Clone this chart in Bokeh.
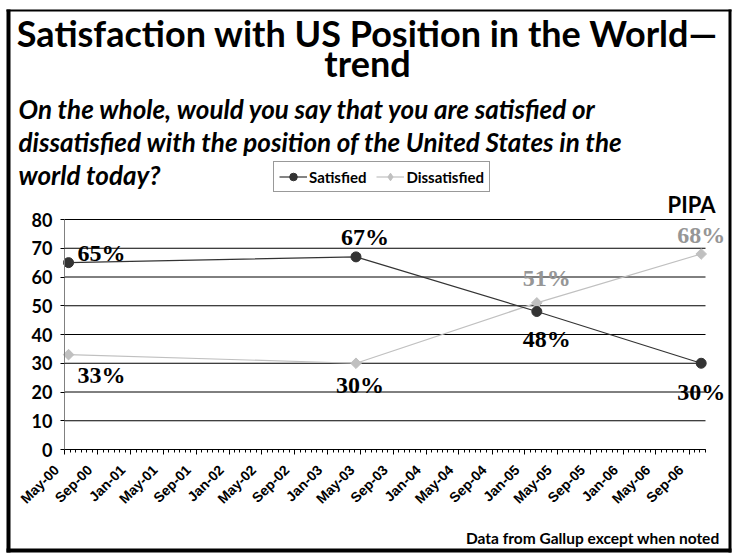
import numpy as np
import pandas as pd
from math import pi
from bokeh.plotting import figure
from bokeh.models import (Range1d, FixedTicker, ColumnDataSource, CustomJSTickFormatter,
                          LabelSet, Label, Legend, LegendItem, BoxAnnotation,
                          DatetimeAxis, LinearAxis)
from bokeh.embed import file_html
from bokeh.resources import INLINE

# ---------------- data ----------------
survey_dates = ["2000-05-16", "2003-04-16", "2005-02-14", "2006-10-16"]
satisfied = [65, 67, 48, 30]
dissatisfied = [33, 30, 51, 68]
tick_labels = ["May-00", "Sep-00", "Jan-01", "May-01", "Sep-01", "Jan-02", "May-02",
               "Sep-02", "Jan-03", "May-03", "Sep-03", "Jan-04", "May-04", "Sep-04",
               "Jan-05", "May-05", "Sep-05", "Jan-06", "May-06", "Sep-06"]
y_ticks = [0, 10, 20, 30, 40, 50, 60, 70, 80]
axis_start = "2000-05-01"
axis_end = "2006-11-01"

# ---------------- helpers ----------------
def to_ms(values):
    return pd.to_datetime(values).values.astype("datetime64[ms]").astype("int64")

major = [float(v) for v in to_ms([pd.to_datetime(t, format="%b-%y") for t in tick_labels])]
start_ms = float(to_ms([axis_start])[0])
end_ms = float(to_ms([axis_end])[0])
minor = []
for a, b in zip(major[:-1], major[1:]):
    st = (b - a) / 6.0
    minor += [a + k * st for k in range(1, 6)]
st = (major[-1] - major[0]) / (len(major) - 1) / 6.0
m = major[-1] + st
while m <= end_ms:
    minor.append(m)
    m += st

x_dates = pd.to_datetime(survey_dates)

# ---------------- layout (canvas pixels) ----------------
W, H = 734, 554
AX_L, AX_R = 64, 705      # x pixel of axis start / end
AX_B, AX_T = 449, 219     # y pixel (from top) of value 0 / 80
LABEL_SHIFT_PX = 8        # rotated tick labels sit a little left of their ticks
y_lo, y_hi = y_ticks[0], y_ticks[-1]
kx = (AX_R - AX_L) / (end_ms - start_ms)
ky = (AX_B - AX_T) / (y_hi - y_lo)
x_range = Range1d(start_ms - AX_L / kx, end_ms + (W - AX_R) / kx)
y_range = Range1d(y_lo - (H - AX_B) / ky, y_hi + AX_T / ky)

p = figure(width=W, height=H, output_backend="svg", toolbar_location=None,
           x_axis_type=None, y_axis_type=None, x_range=x_range, y_range=y_range,
           min_border=0)
p.min_border_left = p.min_border_right = p.min_border_top = p.min_border_bottom = 0
p.outline_line_color = None
p.background_fill_color = "white"
p.border_fill_color = "white"
p.xgrid.visible = False
p.ygrid.visible = False

# gridlines from the y ticks
p.segment(x0=start_ms, x1=end_ms, y0=y_ticks, y1=y_ticks, line_color="black", line_width=1)

# x axis: line and tick marks
xa = DatetimeAxis(fixed_location=0, bounds=(start_ms, end_ms))
xa.ticker = FixedTicker(ticks=major, minor_ticks=minor)
xa.formatter = CustomJSTickFormatter(code="return ''")
xa.axis_line_color = "black"
xa.major_tick_out = 5
xa.major_tick_in = 0
xa.minor_tick_out = 3
xa.minor_tick_in = 0
xa.major_tick_line_color = "black"
xa.minor_tick_line_color = "black"
p.add_layout(xa, "below")

# x axis: rotated tick labels
shift = LABEL_SHIFT_PX / kx
label_pos = [t - shift for t in major]
xl = DatetimeAxis(fixed_location=0, bounds=(label_pos[0], end_ms))
xl.ticker = FixedTicker(ticks=label_pos, minor_ticks=[])
xl.formatter = CustomJSTickFormatter(
    args=dict(pos=label_pos, labels=tick_labels),
    code="""
let best = 0;
for (let i = 0; i < pos.length; i++) {
  if (Math.abs(pos[i] - tick) < Math.abs(pos[best] - tick)) best = i;
}
return labels[best];
""")
xl.axis_line_color = None
xl.major_tick_line_color = None
xl.minor_tick_line_color = None
xl.major_tick_out = 5
xl.major_label_orientation = pi / 4
xl.major_label_text_font = "Liberation Sans"
xl.major_label_text_font_style = "bold"
xl.major_label_text_font_size = "14px"
xl.major_label_text_color = "black"
xl.major_label_standoff = 13
p.add_layout(xl, "below")

ya = LinearAxis(fixed_location=start_ms, bounds=(y_lo, y_hi))
ya.ticker = FixedTicker(ticks=y_ticks)
ya.axis_line_color = "#808080"
ya.major_tick_out = 4
ya.major_tick_in = 0
ya.minor_tick_line_color = None
ya.major_tick_line_color = "black"
ya.major_label_text_font = "Lato"
ya.major_label_text_font_style = "bold"
ya.major_label_text_font_size = "18px"
ya.major_label_text_color = "black"
ya.major_label_standoff = 8
p.add_layout(ya, "left")

# series
src = ColumnDataSource(dict(x=x_dates, sat=satisfied, dis=dissatisfied))
l2 = p.line("x", "dis", source=src, line_color="#c0c0c0", line_width=1.2)
s2 = p.scatter("x", "dis", source=src, marker="square", angle=pi / 4, size=7.5,
               fill_color="#c0c0c0", line_color="#c0c0c0")
l1 = p.line("x", "sat", source=src, line_color="#333333", line_width=1.2)
s1 = p.scatter("x", "sat", source=src, marker="circle", size=10,
               fill_color="#333333", line_color="#333333")
# diamond swatch used only by the legend
s2_key = p.scatter("x", "dis", source=src, marker="diamond", size=13,
                   fill_color="#c0c0c0", line_color="#c0c0c0", visible=False)

# data labels (offsets are styling)
sat_off = [(33, 10), (9, 20), (10, -27), (0, -29)]
dis_off = [(33, -20), (4, -22), (10, 25), (0, 19)]
dis_colors = ["black", "black", "#969696", "#969696"]
lab = dict(x=list(x_dates) * 2,
           y=satisfied + dissatisfied,
           text=[f"{v}%" for v in satisfied + dissatisfied],
           dx=[o[0] for o in sat_off + dis_off],
           dy=[o[1] for o in sat_off + dis_off],
           color=["black"] * 4 + dis_colors)
p.add_layout(LabelSet(x="x", y="y", text="text", x_offset="dx", y_offset="dy",
                      text_color="color", source=ColumnDataSource(lab),
                      text_font="Liberation Serif", text_font_style="bold",
                      text_font_size="24px", text_align="center", text_baseline="middle"))

# legend (bottom-left corner in canvas px, y measured upward)
legend = Legend(items=[LegendItem(label="Satisfied", renderers=[l1, s1]),
                       LegendItem(label="Dissatisfied", renderers=[l2, s2_key])],
                location=(273, H - 192), orientation="horizontal",
                label_text_font="Lato", label_text_font_style="bold",
                label_text_font_size="15px", label_text_color="black",
                glyph_width=28, glyph_height=19, spacing=10, padding=5,
                label_standoff=2, border_line_color="#333333", border_line_width=1,
                margin=0)
p.add_layout(legend)

# text annotations: (x, baseline y) in page pixels from the top-left
def add_text(txt, x, base, fs, align="left", style="bold", color="black", font="Lato"):
    p.add_layout(Label(x=x, y=H - (base - 0.37 * fs), x_units="screen", y_units="screen",
                       text=txt, text_font=font, text_font_style=style,
                       text_font_size=f"{fs}px", text_color=color, text_align=align,
                       text_baseline="middle"))

add_text("Satisfaction with US Position in the World\u2014", 367, 46, 36, align="center")
add_text("trend", 367, 76, 36, align="center")
add_text("On the whole, would you say that you are satisfied or", 18, 118, 26, style="bold italic")
add_text("dissatisfied with the position of the United States in the", 18, 151, 26, style="bold italic")
add_text("world today?", 18, 184, 26, style="bold italic")
add_text("PIPA", 715, 212, 22, align="right")
add_text("Data from Gallup except when noted", 719, 543, 15.5, align="right")

# outer frame (filled bars, screen units measured from the bottom-left)
def bar(x0, x1, y0, y1):
    p.add_layout(BoxAnnotation(left=x0, right=x1, bottom=H - y1, top=H - y0,
                               left_units="screen", right_units="screen",
                               bottom_units="screen", top_units="screen",
                               fill_color="black", fill_alpha=1, line_color=None))

bar(6, 731, 9, 11)     # top
bar(6, 731, 548, 552)  # bottom
bar(6, 10, 9, 552)     # left
bar(728, 731, 9, 552)  # right

open("out.html", "w").write(file_html(p, INLINE))
